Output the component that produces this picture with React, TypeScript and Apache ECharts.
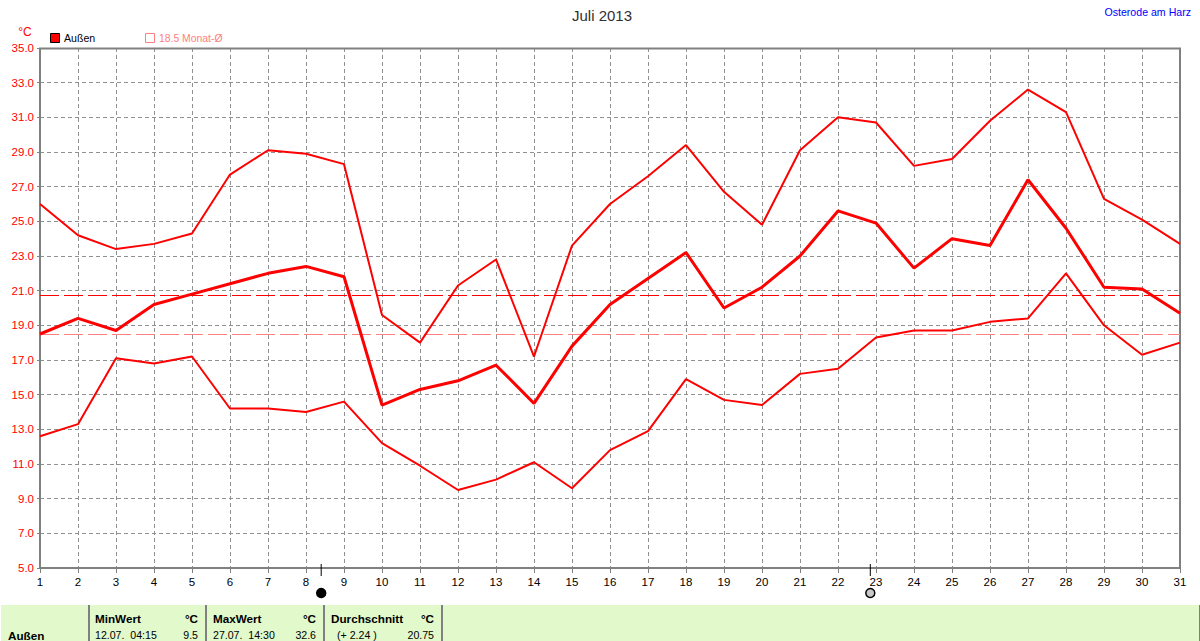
import React, { useEffect, useRef } from "react";
import * as echarts from "echarts";

const days = [1,2,3,4,5,6,7,8,9,10,11,12,13,14,15,16,17,18,19,20,21,22,23,24,25,26,27,28,29,30,31];
const maxTemp = [26.0,24.2,23.4,23.7,24.3,27.7,29.1,28.9,28.3,19.6,18.0,21.3,22.8,17.2,23.6,26.0,27.6,29.4,26.7,24.8,29.1,31.0,30.7,28.2,28.6,30.8,32.6,31.3,26.3,25.1,23.7];
const avgTemp = [18.5,19.4,18.7,20.2,20.8,21.4,22.0,22.4,21.8,14.4,15.3,15.8,16.7,14.5,17.8,20.2,21.7,23.2,20.0,21.2,23.0,25.6,24.9,22.3,24.0,23.6,27.4,24.6,21.2,21.1,19.7];
const minTemp = [12.6,13.3,17.1,16.8,17.2,14.2,14.2,14.0,14.6,12.2,10.9,9.5,10.1,11.1,9.6,11.8,12.9,15.9,14.7,14.4,16.2,16.5,18.3,18.7,18.7,19.2,19.4,22.0,19.0,17.3,18.0];
const periodAvg = 20.75;
const monthAvg = 18.5;
const moonPhases: [number, string][] = [[8.4, "#000000"], [22.85, "#c8c8c8"]];

const FONT = '"Liberation Sans", Arial, sans-serif';
const PANEL = "#e1f9cb";

const pair = (vals: number[]) => vals.map((v, i) => [days[i], v]);

const lineSeries = (name: string, vals: number[], width: number) => ({
  name,
  type: "line",
  data: pair(vals),
  symbol: "none",
  z: 5,
  lineStyle: { color: "#ff0000", width },
});

const txt = (x: number, y: number, text: string, opt: any = {}) => ({
  type: "text",
  x,
  y,
  silent: true,
  style: {
    text,
    fill: opt.fill || "#000000",
    font: `${opt.bold ? "bold " : ""}${opt.size || 10.6}px ${FONT}`,
    textAlign: opt.align || "left",
    textVerticalAlign: "middle",
  },
});

const sep = (x: number) => ({
  type: "rect",
  shape: { x, y: 605, width: 2, height: 36 },
  style: { fill: "#808080" },
});

export default function App() {
  const ref = useRef<HTMLDivElement>(null);
  useEffect(() => {
    document.body.style.margin = "0";
    const chart = echarts.init(ref.current!, null, { renderer: "svg" });
    chart.setOption({
      animation: false,
      backgroundColor: "#ffffff",
      grid: { left: 40, right: 20, top: 48, bottom: 73, containLabel: false },
      xAxis: {
        type: "value",
        min: 1,
        max: 31,
        interval: 1,
        axisLine: { show: false },
        axisTick: { show: true, length: 5, lineStyle: { color: "#808080", width: 1 } },
        axisLabel: { color: "#000000", fontFamily: FONT, fontSize: 11.5, margin: 8 },
        splitLine: { show: true, lineStyle: { color: "#909090", type: [4, 3], width: 1 } },
      },
      yAxis: {
        type: "value",
        min: 5,
        max: 35,
        interval: 2,
        axisLine: { show: false },
        axisTick: { show: true, length: 3, lineStyle: { color: "#808080" } },
        axisLabel: {
          color: "#ff0000",
          fontFamily: FONT,
          fontSize: 11.5,
          margin: 6,
          formatter: (v: number) => v.toFixed(1),
        },
        splitLine: { show: true, lineStyle: { color: "#909090", type: [4, 3], width: 1 } },
      },
      series: [
        lineSeries("Max", maxTemp, 2),
        lineSeries("Außen", avgTemp, 3),
        lineSeries("Min", minTemp, 2),
        {
          type: "line",
          data: [],
          symbol: "none",
          silent: true,
          z: 3,
          markLine: {
            silent: true,
            symbol: "none",
            label: { show: false },
            animation: false,
            data: [
              { yAxis: periodAvg, lineStyle: { color: "#ff0000", type: [19, 5], width: 1 } },
              { yAxis: monthAvg, lineStyle: { color: "#ff8080", type: [19, 5], width: 1 } },
            ],
          },
        },
        {
          type: "custom",
          clip: false,
          silent: true,
          z: 6,
          data: moonPhases.map((m) => [m[0], 5]),
          renderItem: (_: any, api: any) => {
            const p = api.coord([api.value(0), api.value(1)]);
            const fill = moonPhases[_.dataIndex][1];
            return {
              type: "group",
              children: [
                { type: "line", shape: { x1: p[0], y1: p[1] - 4, x2: p[0], y2: p[1] + 8 }, style: { stroke: "#000000", lineWidth: 1 } },
                { type: "circle", shape: { cx: p[0], cy: p[1] + 25, r: 4.5 }, style: { fill, stroke: "#000000", lineWidth: 1.5 } },
              ],
            };
          },
        },
      ],
      graphic: [
        { type: "rect", shape: { x: 40, y: 48.5, width: 1140, height: 519.5 }, style: { fill: "none", stroke: "#808080", lineWidth: 2 }, z: 4 },
        txt(602, 15, "Juli 2013", { size: 15, align: "center", fill: "#303030" }),
        txt(1191, 12, "Osterode am Harz", { fill: "#0000ff", align: "right" }),
        txt(25, 32, "°C", { fill: "#ff0000", size: 12, align: "center" }),
        { type: "rect", shape: { x: 50.5, y: 33.5, width: 9, height: 9 }, style: { fill: "#ff0000", stroke: "#000000", lineWidth: 1 } },
        txt(64, 38, "Außen"),
        { type: "polyline", shape: { points: [[154.5, 42.5], [145.5, 42.5], [145.5, 33.5], [154.5, 33.5], [154.5, 42.5]] }, style: { fill: "none", stroke: "#ff8080", lineWidth: 1 } },
        txt(159, 38, "18.5 Monat-Ø", { fill: "#ff8080", size: 10.4 }),
        { type: "rect", shape: { x: 1, y: 605, width: 1199, height: 36 }, style: { fill: PANEL } },
        sep(88), sep(205), sep(323), sep(441), sep(1199),
        txt(8, 635, "Außen", { bold: true, size: 11.7 }),
        txt(95, 618, "MinWert", { bold: true, size: 11.7 }),
        txt(198, 618, "°C", { bold: true, align: "right", size: 11.7 }),
        txt(95, 635, "12.07.  04:15"),
        txt(198, 635, "9.5", { align: "right" }),
        txt(213, 618, "MaxWert", { bold: true, size: 11.7 }),
        txt(316, 618, "°C", { bold: true, align: "right", size: 11.7 }),
        txt(213, 635, "27.07.  14:30"),
        txt(316, 635, "32.6", { align: "right" }),
        txt(331, 618, "Durchschnitt", { bold: true, size: 11.7 }),
        txt(434, 618, "°C", { bold: true, align: "right", size: 11.7 }),
        txt(337, 635, "(+ 2.24 )"),
        txt(434, 635, "20.75", { align: "right" }),
      ],
    });
    return () => chart.dispose();
  }, []);
  return <div ref={ref} style={{ width: 1200, height: 641 }} />;
}
